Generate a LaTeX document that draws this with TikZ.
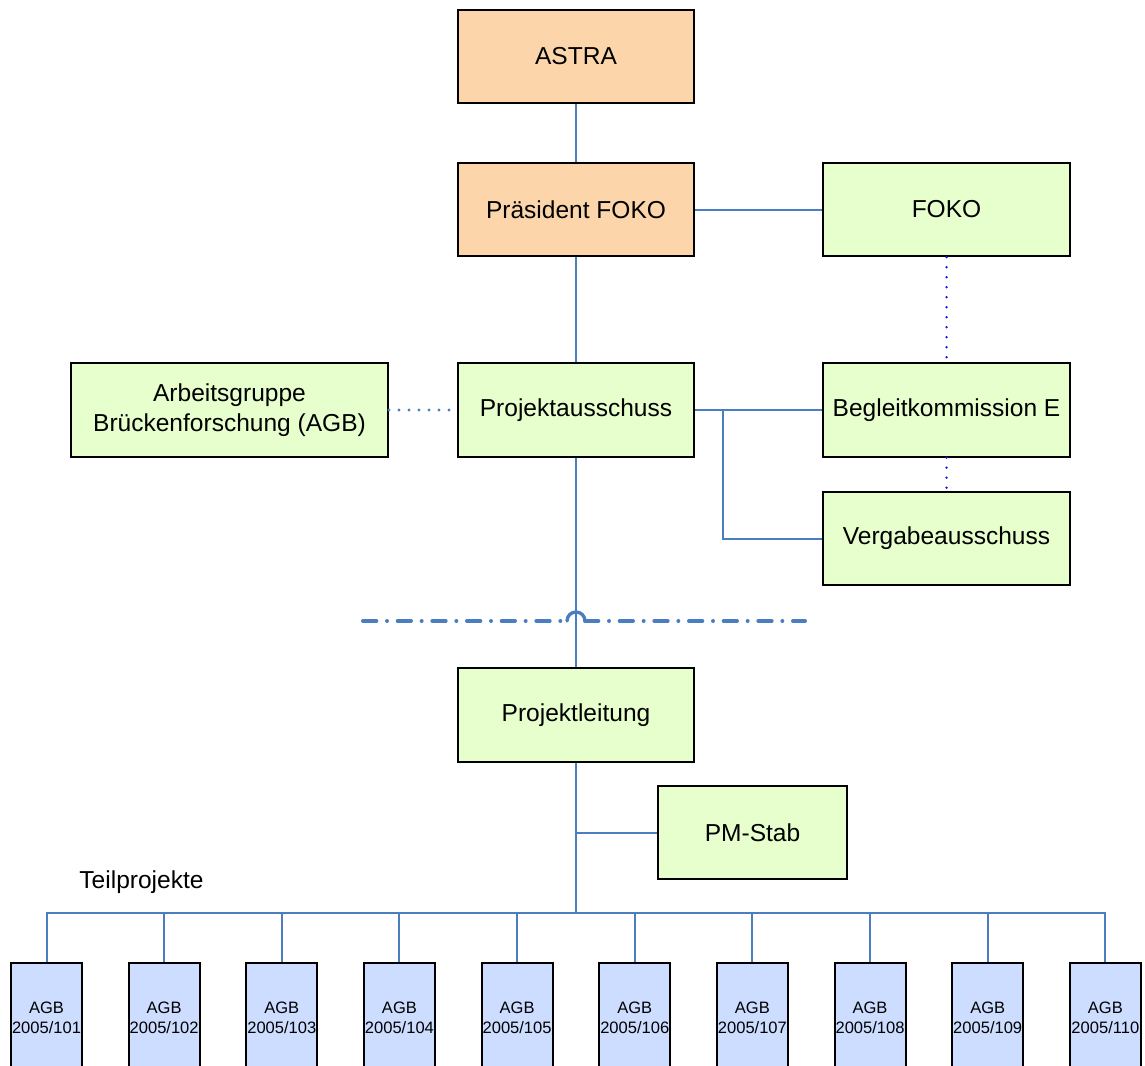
\documentclass[tikz,border=0pt]{standalone}
\usepackage{fontspec}
\setmainfont{Liberation Sans}
\definecolor{peach}{RGB}{252,214,170}
\definecolor{lgreen}{RGB}{230,255,204}
\definecolor{lblue}{RGB}{204,221,255}
\definecolor{conn}{RGB}{74,126,193}
\definecolor{pureblue}{RGB}{20,20,235}
\begin{document}
\begin{tikzpicture}[x=0.75pt,y=-0.75pt,
  box/.style={draw=black, line width=1.5pt, inner sep=0pt, align=center,
    font=\fontsize{18.4pt}{22.5pt}\selectfont},
  bigbox/.style={box, minimum width=177pt, minimum height=70pt},
  widebox/.style={box, minimum width=185.25pt, minimum height=70pt},
  orangebox/.style={bigbox, fill=peach},
  greenbox/.style={bigbox, fill=lgreen},
  gwidebox/.style={widebox, fill=lgreen},
  tpbox/.style={draw=black, line width=1.5pt, fill=lblue, inner sep=0pt, align=center,
    minimum width=53.25pt, minimum height=82pt,
    font=\fontsize{12.4pt}{15pt}\selectfont},
  link/.style={draw=conn, line width=1.5pt},
  dotlink/.style={draw=conn, line width=2.4pt, line cap=round, dash pattern=on 0pt off 7.5pt},
  dotpure/.style={draw=pureblue, line width=2pt, line cap=round, dash pattern=on 0pt off 7.5pt},
  sepline/.style={draw=conn, line width=3pt, line cap=round, dash pattern=on 10pt off 8pt on 0pt off 8pt}
]
\useasboundingbox (0,0) rectangle (1145,1065);

% separator line with hop
\coordinate (sepL) at (363,621);
\coordinate (sepR) at (805,621);
\coordinate (hopL) at (567,621);
\coordinate (hopR) at (585,621);
\draw[sepline] (sepL) -- (hopL);
\draw[sepline] (hopR) -- (sepR);
\draw[draw=conn, line width=2.5pt, line cap=round] (hopL) arc[start angle=180, end angle=360, radius=9];

% nodes
\node[orangebox] (astra) at (576,56.5) {ASTRA};
\node[orangebox] (praes) at (576,209.5) {Präsident FOKO};
\node[gwidebox] (foko) at (946.5,209.5) {FOKO};
\node[box, fill=lgreen, minimum width=237.75pt, minimum height=70.5pt] (ag) at (229.5,410) {Arbeitsgruppe\\Brückenforschung (AGB)};
\node[greenbox] (pa) at (576,410) {Projektausschuss};
\node[gwidebox] (bk) at (946.5,410) {Begleitkommission E};
\node[gwidebox] (va) at (946.5,538.5) {Vergabeausschuss};
\node[greenbox] (pl) at (576,715) {Projektleitung};
\node[box, fill=lgreen, minimum width=141.75pt, minimum height=70pt] (ps) at (752.5,832.5) {PM-Stab};
\node[font=\fontsize{18.4pt}{22.5pt}\selectfont, anchor=center] (tp) at (141.5,882) {Teilprojekte};

\foreach \i/\n in {0/101,1/102,2/103,3/104,4/105,5/106,6/107,7/108,8/109,9/110}{
  \node[tpbox] (t\n) at ({46.5+117.65*\i},1018) {AGB\\2005/\n};
}

% connectors
\draw[link] (astra) -- (praes);
\draw[link] (praes) -- (foko);
\draw[link] (praes) -- (pa);
\draw[link] (pa.east) -- (bk.west);
\coordinate (j1) at (723,410);
\draw[link] (j1) |- (va.west);
\draw[link] (pa) -- (pl);
\coordinate (bus) at (576,913);
\draw[link] (pl.south) -- (bus);
\draw[link] (ps.west) -- (ps.west -| pl.south);
\draw[link] (t101.north) |- (bus) -| (t110.north);
\foreach \n in {102,103,104,105,106,107,108,109}{
  \draw[link] (t\n.north) -- (t\n.north |- bus);
}
\draw[dotlink] (ag.east) -- (pa.west);
\draw[dotpure] (foko.south) -- (bk.north);
\draw[dotpure] (bk.south) -- (va.north);
\end{tikzpicture}
\end{document}
